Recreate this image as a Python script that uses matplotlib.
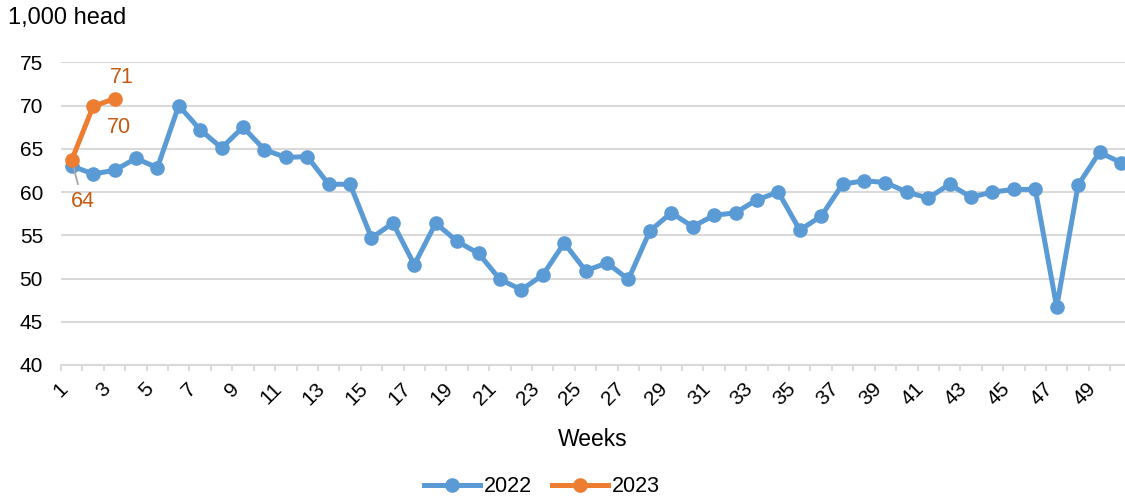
import matplotlib
matplotlib.use("Agg")
import matplotlib.pyplot as plt
from matplotlib.ticker import FixedLocator, NullFormatter

plt.rcParams['font.family'] = ['Liberation Sans', 'DejaVu Sans']

weeks_2022 = list(range(1, 51))
head_2022 = [63.0, 62.1, 62.5, 63.9, 62.8, 70.0, 67.2, 65.1, 67.5, 64.9,
             64.0, 64.1, 60.9, 60.9, 54.7, 56.4, 51.6, 56.4, 54.3, 52.9,
             49.9, 48.7, 50.4, 54.1, 50.9, 51.8, 49.9, 55.5, 57.6, 56.0,
             57.3, 57.6, 59.1, 60.0, 55.6, 57.2, 60.9, 61.3, 61.1, 60.0,
             59.3, 60.9, 59.4, 60.0, 60.3, 60.3, 46.7, 60.8, 64.6, 63.4]
weeks_2023 = [1, 2, 3]
head_2023 = [63.7, 69.9, 70.8]

tick_weeks = list(range(1, 51, 2))
y_ticks = [40, 45, 50, 55, 60, 65, 70, 75]

blue = '#5B9BD5'
orange = '#ED7D31'
label_orange = '#C55A11'
grid_gray = '#D9D9D9'

fig = plt.figure(figsize=(11.25, 4.96), dpi=100)
ax = fig.add_axes([61 / 1125, 1 - 365 / 496, 1 - 61 / 1125, (365 - 62.3) / 496])

ax.plot(weeks_2022, head_2022, color=blue, lw=3.6, marker='o', ms=9.5,
        solid_joinstyle='round', label='2022', zorder=3)
ax.plot(weeks_2023, head_2023, color=orange, lw=3.6, marker='o', ms=9.5,
        solid_joinstyle='round', label='2023', zorder=4)

ax.set_ylim(40, 75)
ax.set_xlim(0.5, 50.19)
ax.set_yticks(y_ticks)
ax.yaxis.grid(True, color=grid_gray, lw=1.5)
ax.set_axisbelow(True)
ax.tick_params(axis='y', length=0, pad=13, labelsize=15, colors='#000000')

ax.xaxis.set_major_locator(FixedLocator(tick_weeks))
ax.set_xticklabels([str(w) for w in tick_weeks], rotation=45, ha='right', va='top')
ax.xaxis.set_minor_locator(FixedLocator([w + 0.5 for w in range(0, 51)]))
ax.xaxis.set_minor_formatter(NullFormatter())
ax.tick_params(axis='x', which='major', length=0, pad=10, labelsize=15)
ax.tick_params(axis='x', which='minor', length=4.5, width=1.3, color=grid_gray)

for side in ('top', 'right', 'left'):
    ax.spines[side].set_visible(False)
ax.spines['bottom'].set_color(grid_gray)
ax.spines['bottom'].set_linewidth(1.5)

ax.set_xlabel('Weeks', fontsize=16.5, labelpad=14)

# value labels for 2023
lab = [str(round(v)) for v in head_2023]
ax.annotate(lab[0], xy=(weeks_2023[0], head_2023[0]), xytext=(1.5, 58.9),
            ha='center', va='center', fontsize=15.5, color=label_orange, zorder=3.5,
            arrowprops=dict(arrowstyle='-', color='#A6A6A6', lw=1.3,
                            shrinkA=3, shrinkB=0))
ax.text(3.19, 67.5, lab[1], ha='center', va='center', fontsize=15.5, color=label_orange)
ax.text(3.32, 73.3, lab[2], ha='center', va='center', fontsize=15.5, color=label_orange)

fig.text(8 / 1125, 1 - 18 / 496, '1,000 head', ha='left', va='center', fontsize=17)

fig.legend(loc='center', bbox_to_anchor=(542 / 1125, 1 - 487 / 496), ncol=2,
           frameon=False, fontsize=15.5, handlelength=2.6, handletextpad=0.2,
           columnspacing=0.9, borderpad=0)

fig.savefig('out.png', dpi=100)
